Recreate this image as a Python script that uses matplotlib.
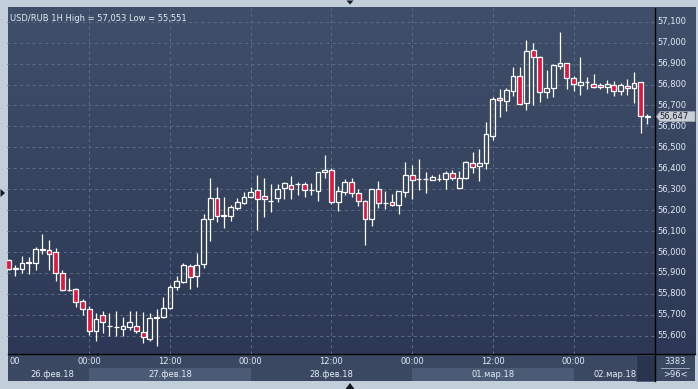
import matplotlib
matplotlib.use("Agg")
import matplotlib.pyplot as plt
import numpy as np
from matplotlib.colors import LinearSegmentedColormap
from matplotlib.patches import Rectangle, Polygon
from matplotlib.transforms import blended_transform_factory

# ---------------- data (hourly candles, 26.02.18 12:00 -> 02.03.18 11:00) ----------------
opens = [55.963, 55.918, 55.917, 55.950, 55.950, 56.012, 56.012, 55.998, 55.898, 55.818,
         55.823, 55.764, 55.726, 55.625, 55.697, 55.646, 55.643, 55.633, 55.643, 55.649,
         55.616, 55.586, 55.683, 55.691, 55.732, 55.834, 55.858, 55.934, 55.887, 55.941,
         56.156, 56.256, 56.175, 56.173, 56.211, 56.235, 56.262, 56.294, 56.266, 56.245,
         56.256, 56.307, 56.318, 56.325, 56.323, 56.294, 56.293, 56.382, 56.391, 56.240,
         56.288, 56.334, 56.282, 56.242, 56.160, 56.299, 56.234, 56.237, 56.227, 56.285,
         56.368, 56.348, 56.347, 56.342, 56.348, 56.350, 56.377, 56.307, 56.352, 56.425,
         56.409, 56.423, 56.555, 56.735, 56.723, 56.770, 56.841, 56.713, 56.965, 56.930,
         56.766, 56.782, 56.890, 56.903, 56.831, 56.799, 56.813, 56.801, 56.796, 56.790,
         56.796, 56.767, 56.791, 56.782, 56.810, 56.649]
highs = [55.968, 55.936, 55.979, 55.974, 56.023, 56.086, 56.057, 56.019, 55.914, 55.875,
         55.828, 55.775, 55.740, 55.711, 55.718, 55.708, 55.718, 55.689, 55.718, 55.718,
         55.713, 55.708, 55.727, 55.785, 55.844, 55.885, 55.946, 55.941, 55.996, 56.181,
         56.353, 56.310, 56.263, 56.224, 56.256, 56.286, 56.312, 56.366, 56.353, 56.325,
         56.326, 56.334, 56.363, 56.334, 56.334, 56.329, 56.382, 56.463, 56.403, 56.315,
         56.350, 56.352, 56.299, 56.247, 56.301, 56.337, 56.291, 56.277, 56.290, 56.428,
         56.415, 56.444, 56.382, 56.369, 56.374, 56.385, 56.391, 56.387, 56.434, 56.477,
         56.492, 56.621, 56.742, 56.778, 56.785, 56.884, 56.884, 57.013, 56.998, 56.938,
         56.869, 56.896, 57.053, 56.905, 56.841, 56.931, 56.836, 56.849, 56.807, 56.820,
         56.815, 56.807, 56.826, 56.860, 56.811, 56.659]
lows = [55.912, 55.887, 55.899, 55.896, 55.915, 55.990, 55.915, 55.863, 55.813, 55.812,
        55.737, 55.700, 55.605, 55.576, 55.613, 55.597, 55.600, 55.600, 55.627, 55.613,
        55.566, 55.576, 55.551, 55.684, 55.727, 55.818, 55.853, 55.823, 55.834, 55.922,
        56.054, 56.145, 56.116, 56.148, 56.202, 56.231, 56.256, 56.106, 56.167, 56.192,
        56.240, 56.253, 56.253, 56.272, 56.264, 56.272, 56.245, 56.355, 56.231, 56.197,
        56.274, 56.261, 56.218, 56.036, 56.125, 56.211, 56.205, 56.221, 56.183, 56.261,
        56.253, 56.296, 56.283, 56.342, 56.337, 56.302, 56.345, 56.307, 56.348, 56.376,
        56.340, 56.396, 56.535, 56.643, 56.675, 56.745, 56.708, 56.680, 56.704, 56.718,
        56.737, 56.742, 56.874, 56.778, 56.770, 56.751, 56.780, 56.785, 56.778, 56.758,
        56.747, 56.751, 56.751, 56.713, 56.570, 56.613]
closes = [55.918, 55.922, 55.950, 55.953, 56.016, 56.014, 55.993, 55.898, 55.820, 55.820,
          55.759, 55.730, 55.621, 55.679, 55.664, 55.647, 55.642, 55.649, 55.664, 55.625,
          55.595, 55.684, 55.692, 55.735, 55.831, 55.861, 55.938, 55.883, 55.938, 56.157,
          56.256, 56.173, 56.174, 56.215, 56.240, 56.261, 56.289, 56.251, 56.251, 56.246,
          56.301, 56.328, 56.302, 56.327, 56.294, 56.295, 56.380, 56.391, 56.240, 56.291,
          56.334, 56.280, 56.242, 56.160, 56.299, 56.232, 56.235, 56.227, 56.290, 56.368,
          56.345, 56.349, 56.348, 56.358, 56.349, 56.376, 56.352, 56.352, 56.428, 56.404,
          56.425, 56.563, 56.729, 56.724, 56.774, 56.841, 56.708, 56.960, 56.933, 56.766,
          56.783, 56.893, 56.901, 56.829, 56.801, 56.810, 56.814, 56.790, 56.786, 56.804,
          56.769, 56.796, 56.782, 56.806, 56.649, 56.647]

y_ticks = [55.6, 55.7, 55.8, 55.9, 56.0, 56.1, 56.2, 56.3, 56.4, 56.5,
           56.6, 56.7, 56.8, 56.9, 57.0, 57.1]
time_tick_idx = [12, 24, 36, 48, 60, 72, 84]
time_tick_labels = ["00:00", "12:00", "00:00", "12:00", "00:00", "12:00", "00:00"]
left_stub_label = "00"   # remainder of the "12:00" label cut by the left edge
day_labels = ["26.фев.18", "27.фев.18", "28.фев.18", "01.мар.18", "02.мар.18"]
day_start_idx = [-12, 12, 36, 60, 84]

title = "USD/RUB 1H High = 57,053 Low = 55,551"
last_price = 56.647
bars_total = "3383"
bars_visible = ">96<"

# ---------------- styling ----------------
W, H = 698, 389
FRAME = "#c3cedb"
BG_TOP = "#404f69"
BG_BOT = "#2c3855"
PANEL = "#3b4862"
BAND = "#4b5a75"
GRID = "#5a6985"
TXT = "#e4ecf6"
RED = "#e3173e"
FONT = "DejaVu Sans"
FS = 6.0

fig = plt.figure(figsize=(W / 100, H / 100), dpi=100)
fig.patch.set_facecolor(FRAME)

bg = fig.add_axes([0, 0, 1, 1])
bg.set_xlim(0, W)
bg.set_ylim(H, 0)
bg.axis("off")

PL, PT, PR, PB, AX_B, RP = 7.5, 7.5, 655, 354, 381, 695

# gradient background (plot + price panel)
grad = np.linspace(0, 1, 256).reshape(-1, 1)
cmap = LinearSegmentedColormap.from_list("bg", [BG_TOP, BG_BOT])
bg.imshow(grad, cmap=cmap, extent=(PL, RP, PB, PT), aspect="auto", zorder=0)
# time axis panel
bg.add_patch(Rectangle((PL, PB), RP - PL, AX_B - PB, facecolor=PANEL, edgecolor="none", zorder=1))

# main axes
ax = fig.add_axes([PL / W, (H - PB) / H, (PR - PL) / W, (PB - PT) / H])
ax.set_facecolor("none")
x0_px, dx_px = 8.6, 6.725
ax.set_xlim((PL - x0_px) / dx_px, (PR - x0_px) / dx_px)
ax.set_ylim(55.513, 57.168)
for s in ax.spines.values():
    s.set_visible(False)
ax.set_xticks([])
ax.set_yticks([])

# grid
for yv in y_ticks:
    ax.axhline(yv, color=GRID, lw=0.75, ls=(0, (3, 3)), zorder=1)
for xi in time_tick_idx:
    ax.axvline(xi, color=GRID, lw=0.75, ls=(0, (3, 3)), zorder=1)

# candles
idx = np.arange(len(opens))
o = np.array(opens); c = np.array(closes); h = np.array(highs); l = np.array(lows)
lo_b = np.minimum(o, c); hi_b = np.maximum(o, c)
ax.vlines(idx, l, lo_b, color="white", lw=0.9, zorder=3)
ax.vlines(idx, hi_b, h, color="white", lw=0.9, zorder=3)
fc = [RED if cc < oo else "none" for oo, cc in zip(o, c)]
ax.bar(idx, hi_b - lo_b, bottom=lo_b, width=0.72, color=fc, edgecolor="white",
       linewidth=0.9, zorder=4)

# title
ax.text(0.004, 0.982, title, transform=ax.transAxes, color=TXT, fontsize=FS,
        family=FONT, ha="left", va="top", zorder=6)

# separators
bg.plot([PR, PR], [PT, AX_B], color="black", lw=1.0, zorder=5)
bg.plot([PL, RP], [PB, PB], color="black", lw=1.0, zorder=5)

# price labels
ty = blended_transform_factory(bg.transData, ax.transData)
for yv in y_ticks:
    bg.text(657.5, yv, f"{yv:.3f}".replace(".", ","), transform=ty, color=TXT,
            fontsize=FS, family=FONT, ha="left", va="center", zorder=6)

# last price marker
yp = bg.transData.inverted().transform(ax.transData.transform((0, last_price)))[1]
bg.add_patch(Polygon([(656.5, yp), (660, yp - 5), (695, yp - 5), (695, yp + 5), (660, yp + 5)],
                     closed=True, facecolor="#c9ced6", edgecolor="#9aa3ad", lw=0.6, zorder=7))
bg.text(659.5, yp, f"{last_price:.3f}".replace(".", ","), color="#1c2330", fontsize=FS,
        family=FONT, ha="left", va="center", zorder=8)

# time axis: day bands
tx = blended_transform_factory(ax.transData, bg.transData)
for k, (st, lab) in enumerate(zip(day_start_idx, day_labels)):
    if k % 2 == 1:
        bg.add_patch(Rectangle((st, 368), 24, AX_B - 368, transform=tx, facecolor=BAND,
                               edgecolor="none", zorder=2))
# dark scroll box
bg.add_patch(Rectangle((636, PB + 0.5), PR - 636, AX_B - PB - 0.5, facecolor="#29354f",
                       edgecolor="#4a5670", lw=0.5, zorder=3))

bg.text(9.5, 362, left_stub_label, color=TXT, fontsize=FS, family=FONT,
        ha="left", va="center", zorder=6)
for xi, lab in zip(time_tick_idx, time_tick_labels):
    bg.text(xi, 362, lab, transform=tx, color=TXT, fontsize=FS, family=FONT,
            ha="center", va="center", zorder=6)
day_x = [52.5, None, None, None, 615]
for k, (st, lab) in enumerate(zip(day_start_idx, day_labels)):
    if day_x[k] is not None:
        bg.text(day_x[k], 374.5, lab, color=TXT, fontsize=FS, family=FONT,
                ha="center", va="center", zorder=6)
    else:
        bg.text(st + 12, 374.5, lab, transform=tx, color=TXT, fontsize=FS, family=FONT,
                ha="center", va="center", zorder=6)

# bottom right counter box
bg.text(675, 361.5, bars_total, color=TXT, fontsize=FS, family=FONT, ha="center", va="center", zorder=6)
bg.plot([661, 689], [368, 368], color="#a9b4c4", lw=0.6, zorder=6)
bg.text(675, 374.5, bars_visible, color=TXT, fontsize=FS, family=FONT, ha="center", va="center", zorder=6)

# little navigation triangles
tri = "#111820"
bg.add_patch(Polygon([(346.5, 0.5), (353.5, 0.5), (350, 4.5)], closed=True, facecolor=tri, edgecolor="none", zorder=6))
bg.add_patch(Polygon([(0.5, 189), (0.5, 197), (5, 193)], closed=True, facecolor=tri, edgecolor="none", zorder=6))
bg.add_patch(Polygon([(345.5, 389), (354.5, 389), (350, 383)], closed=True, facecolor=tri, edgecolor="none", zorder=6))

fig.savefig("out.png", dpi=100, facecolor=FRAME)
